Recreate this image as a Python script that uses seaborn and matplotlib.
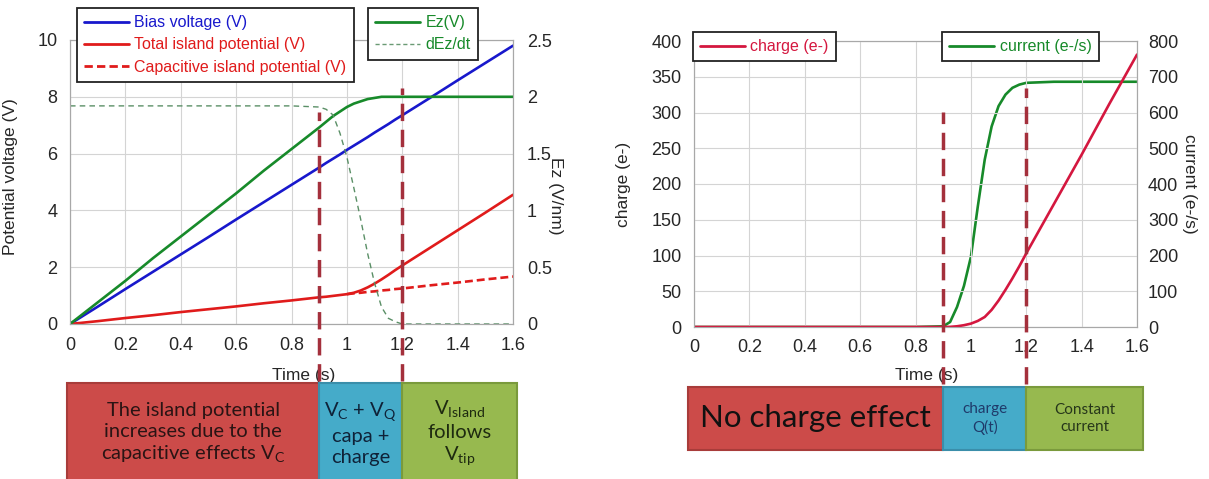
import numpy as np
import pandas as pd
import matplotlib
matplotlib.use("Agg")
import matplotlib.pyplot as plt
import matplotlib.transforms as mtransforms
from matplotlib.patches import Rectangle
from matplotlib.lines import Line2D
from matplotlib.ticker import FuncFormatter
import seaborn as sns

# ---------------- left panel: potentials (time in s) ----------------
time_l = [0, 0.1, 0.2, 0.3, 0.4, 0.5, 0.6, 0.7, 0.8, 0.9, 0.925, 0.95, 0.975,
          1.0, 1.025, 1.05, 1.075, 1.1, 1.125, 1.15, 1.175, 1.2, 1.3, 1.4, 1.5, 1.6]
bias_v = [0, 0.61, 1.23, 1.84, 2.45, 3.06, 3.68, 4.29, 4.9, 5.51, 5.67, 5.82, 5.97,
          6.13, 6.28, 6.43, 6.58, 6.74, 6.89, 7.04, 7.2, 7.35, 7.96, 8.58, 9.19, 9.8]
total_v = [0, 0.10, 0.21, 0.31, 0.42, 0.52, 0.62, 0.73, 0.83, 0.94, 0.96, 0.99, 1.02,
           1.05, 1.10, 1.18, 1.29, 1.42, 1.57, 1.73, 1.90, 2.06, 2.68, 3.30, 3.92, 4.55]
capa_v = [np.nan] * 13 + [1.05, 1.08, 1.10, 1.13, 1.15, 1.18, 1.20, 1.23, 1.25,
                          1.36, 1.46, 1.57, 1.67]
ez = [0, 0.19, 0.38, 0.58, 0.77, 0.96, 1.15, 1.35, 1.54, 1.73, 1.78, 1.83, 1.87,
      1.91, 1.94, 1.96, 1.98, 1.99, 2.0, 2.0, 2.0, 2.0, 2.0, 2.0, 2.0, 2.0]
dez_dt = [1.92, 1.92, 1.92, 1.92, 1.92, 1.92, 1.92, 1.92, 1.92, 1.91, 1.89, 1.84, 1.68,
          1.47, 1.20, 0.92, 0.62, 0.36, 0.15, 0.05, 0.02, 0, 0, 0, 0, 0]

# ---------------- right panel: charge / current ----------------
time_r = [0, 0.2, 0.4, 0.6, 0.8, 0.9, 0.925, 0.95, 0.975, 1.0, 1.025, 1.05, 1.075,
          1.1, 1.125, 1.15, 1.175, 1.2, 1.3, 1.4, 1.5, 1.6]
charge = [0, 0, 0, 0, 0, 0, 0.2, 1, 2.5, 4.7, 8.5, 14, 24, 37, 52, 68, 85, 103,
          172, 241, 312, 381]
current = [0, 0, 0, 0, 0, 2, 14, 56, 115, 196, 337, 468, 561, 618, 650, 669, 678,
           683, 686, 686, 686, 686]

# phase boundaries and the text boxes below each chart
phase_edges = [0.9, 1.2]
phase_left_txt = ["The island potential\nincreases due to the\ncapacitive effects V$_{\\mathrm{C}}$",
                  "V$_{\\mathrm{C}}$ + V$_{\\mathrm{Q}}$\ncapa +\ncharge",
                  "V$_{\\mathrm{Island}}$\nfollows\nV$_{\\mathrm{tip}}$"]
phase_right_txt = ["No charge effect", "charge\nQ(t)", "Constant\ncurrent"]

left_df = pd.DataFrame({"time": time_l, "bias": bias_v, "total": total_v,
                        "capa": capa_v, "ez": ez, "dez": dez_dt})
right_df = pd.DataFrame({"time": time_r, "charge": charge, "current": current})

sns.set_style("white")
plt.rcParams["font.family"] = ["Liberation Sans", "DejaVu Sans"]
plt.rcParams["mathtext.fontset"] = "custom"
plt.rcParams["mathtext.rm"] = "Lato"

BLUE = "#1818cc"
RED = "#e01b1b"
GREEN = "#178a2a"
CRIMSON = "#d4173f"
PHASE = "#a4303c"
GRID = "#d4d4d4"
SPINE = "#a8a8a8"
BOX_RED, BOX_BLUE, BOX_GREEN = "#cc4b49", "#45abc9", "#97b94f"
EDGE_RED, EDGE_BLUE, EDGE_GREEN = "#a83c3a", "#3a8eaa", "#7a9a3c"

fig = plt.figure(figsize=(12.09, 4.79), dpi=100)
W, H = 1209, 479

def px_axes(x0, x1, ytop, ybot):
    return fig.add_axes([x0 / W, 1 - ybot / H, (x1 - x0) / W, (ybot - ytop) / H])

fmt = FuncFormatter(lambda v, p: "%g" % v)

def style(ax, pad):
    ax.tick_params(length=0, labelsize=13, pad=pad)
    for s in ax.spines.values():
        s.set_color(SPINE)
        s.set_linewidth(0.8)

def phase_lines(ax, top_frac):
    for x, top in zip(phase_edges, top_frac):
        ax.axvline(x, ymin=-0.2, ymax=top, color=PHASE, lw=2.5, ls=(0, (5, 2.5)),
                   clip_on=False, zorder=10)

def phase_boxes(ax, xlo, xhi, ybot, ytop, texts, tcolors, sizes):
    trans = mtransforms.blended_transform_factory(ax.transData, fig.transFigure)
    edges = [xlo] + phase_edges + [xhi]
    fills = [(BOX_RED, EDGE_RED), (BOX_BLUE, EDGE_BLUE), (BOX_GREEN, EDGE_GREEN)]
    y0, y1 = 1 - ybot / H, 1 - ytop / H
    for i in range(3):
        r = Rectangle((edges[i], y0), edges[i + 1] - edges[i], y1 - y0, transform=trans,
                      facecolor=fills[i][0], edgecolor=fills[i][1], lw=1.5, clip_on=False)
        ax.add_patch(r)
        ax.text((edges[i] + edges[i + 1]) / 2, (y0 + y1) / 2, texts[i], transform=trans,
                ha="center", va="center", color=tcolors[i], fontsize=sizes[i],
                family="Lato", linespacing=1.28, clip_on=False)

leg_kw = dict(loc="upper left", fontsize=11.5, frameon=True, fancybox=False, framealpha=1,
              edgecolor="#222222", handlelength=2.8, handletextpad=0.35,
              labelspacing=0.45, borderpad=0.45, borderaxespad=0)

# ================= left chart =================
ax1 = px_axes(70, 513, 40, 324)
ax1b = ax1.twinx()
sns.lineplot(data=left_df, x="time", y="bias", ax=ax1, color=BLUE, lw=1.9)
sns.lineplot(data=left_df, x="time", y="total", ax=ax1, color=RED, lw=1.9)
sns.lineplot(data=left_df.dropna(), x="time", y="capa", ax=ax1, color=RED, lw=1.9,
             ls=(0, (3, 1.5)))
sns.lineplot(data=left_df, x="time", y="ez", ax=ax1b, color=GREEN, lw=1.9)
sns.lineplot(data=left_df, x="time", y="dez", ax=ax1b, color="#5a8f66", lw=1.0,
             ls=(0, (4, 3)))
ax1.set_xlim(0, 1.6)
ax1.set_ylim(0, 10)
ax1b.set_ylim(0, 2.5)
ax1.set_xticks(np.arange(0, 1.61, 0.2))
ax1.set_yticks(np.arange(0, 10.1, 2))
ax1b.set_yticks(np.arange(0, 2.51, 0.5))
for a in (ax1, ax1b):
    a.xaxis.set_major_formatter(fmt)
    a.yaxis.set_major_formatter(fmt)
ax1.grid(True, color=GRID, lw=0.8)
style(ax1, 9)
style(ax1b, 10)
ax1.set_xlabel("Time (s)", fontsize=12.5)
ax1.set_ylabel("Potential voltage (V)", fontsize=12.5)
ax1b.set_ylabel("Ez (V/nm)", fontsize=12.5, rotation=270)
ax1.xaxis.set_label_coords(0.528, -0.155)
ax1.yaxis.set_label_coords(-0.117, 0.52)
ax1b.yaxis.set_label_coords(1.113, 0.45)
phase_lines(ax1b, [0.746, 0.831])
phase_boxes(ax1b, -0.01, 1.615, 479 + 5, 383, phase_left_txt,
            ["#2a1414", "#0f2238", "#1e2a10"], [14.5, 14.5, 14.5])

# legends (left)
h1 = [Line2D([], [], color=BLUE, lw=2), Line2D([], [], color=RED, lw=2),
      Line2D([], [], color=RED, lw=2, ls=(0, (3, 1.5)))]
l1 = ["Bias voltage (V)", "Total island potential (V)", "Capacitive island potential (V)"]
leg = fig.legend(h1, l1, bbox_to_anchor=(77 / W, 1 - 8 / H), **leg_kw)
leg.get_frame().set_linewidth(1.3)
for t, c in zip(leg.get_texts(), [BLUE, RED, RED]):
    t.set_color(c)
h2 = [Line2D([], [], color=GREEN, lw=2), Line2D([], [], color="#6a9a74", lw=1, ls=(0, (3, 2)))]
leg2 = fig.legend(h2, ["Ez(V)", "dEz/dt"], bbox_to_anchor=(368 / W, 1 - 8 / H), **leg_kw)
leg2.get_frame().set_linewidth(1.3)
for t in leg2.get_texts():
    t.set_color(GREEN)

# ================= right chart =================
ax2 = px_axes(694, 1137, 41, 327)
ax2b = ax2.twinx()
ax2b.set_zorder(ax2.get_zorder() - 1)
ax2.patch.set_visible(False)
sns.lineplot(data=right_df, x="time", y="charge", ax=ax2, color=CRIMSON, lw=1.9)
sns.lineplot(data=right_df, x="time", y="current", ax=ax2b, color=GREEN, lw=1.9)
ax2.set_xlim(0, 1.6)
ax2.set_ylim(0, 400)
ax2b.set_ylim(0, 800)
ax2.set_xticks(np.arange(0, 1.61, 0.2))
ax2.set_yticks(np.arange(0, 401, 50))
ax2b.set_yticks(np.arange(0, 801, 100))
ax2.xaxis.set_major_formatter(fmt)
ax2b.xaxis.set_major_formatter(fmt)
ax2.grid(True, color=GRID, lw=0.8)
style(ax2, 9)
style(ax2b, 8)
ax2.set_xlabel("Time (s)", fontsize=12.5)
ax2.set_ylabel("charge (e-)", fontsize=12.5)
ax2b.set_ylabel("current (e-/s)", fontsize=12.5, rotation=270)
ax2.xaxis.set_label_coords(0.526, -0.143)
ax2.yaxis.set_label_coords(-0.142, 0.5)
ax2b.yaxis.set_label_coords(1.135, 0.5)
phase_lines(ax2, [0.753, 0.835])
phase_boxes(ax2, -0.02, 1.62, 450, 387, phase_right_txt,
            ["#111111", "#1f3a6a", "#26361a"], [22.5, 11, 11])

leg3 = fig.legend([Line2D([], [], color=CRIMSON, lw=2)], ["charge (e-)"],
                  bbox_to_anchor=(693 / W, 1 - 32 / H), **leg_kw)
leg3.get_frame().set_linewidth(1.3)
leg3.get_texts()[0].set_color(CRIMSON)
leg4 = fig.legend([Line2D([], [], color=GREEN, lw=2)], ["current (e-/s)"],
                  bbox_to_anchor=(942 / W, 1 - 32 / H), **leg_kw)
leg4.get_frame().set_linewidth(1.3)
leg4.get_texts()[0].set_color(GREEN)

fig.savefig("out.png", dpi=100)
